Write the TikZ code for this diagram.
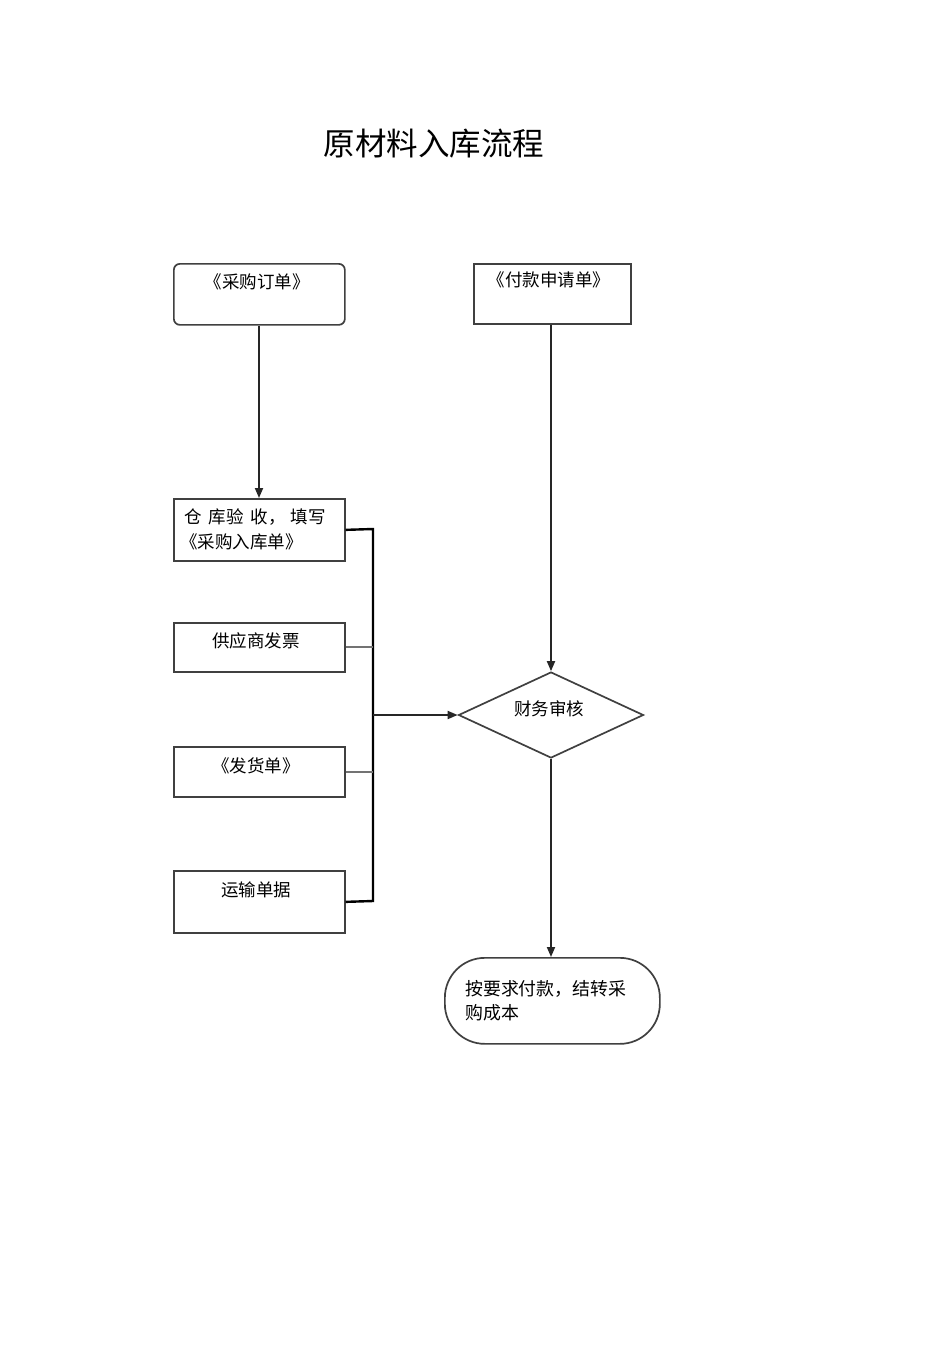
\documentclass[tikz,border=0pt]{standalone}
\usepackage{fontspec}
\setmainfont{Noto Sans CJK SC}
\usetikzlibrary{shapes.geometric,arrows.meta}
\tikzset{
  boxnode/.style={draw=black!75, line width=1.7pt, inner sep=0pt, anchor=north west},
  txt/.style={font=\fontsize{17.5}{24}\selectfont, inner sep=0pt, text height=0.88em, text depth=0.12em},
  mtxt/.style={font=\fontsize{17.5}{25}\selectfont, inner sep=0pt, anchor=base west, align=left},
  arr/.style={line width=1.8pt, draw=black!85, -{Triangle[length=10pt,width=8pt]}},
  busline/.style={line width=2.4pt, draw=black},
  thinline/.style={line width=1.8pt, draw=black!55}
}
\begin{document}
\begin{tikzpicture}[x=1pt,y=-1pt]
\useasboundingbox[fill=white] (0,0) rectangle (950,1345);
% title
\node[font=\fontsize{31.5}{36}\selectfont, inner sep=0pt] (title) at (434,144) {原材料入库流程};
% boxes
\node[boxnode, rounded corners=6pt, minimum width=171pt, minimum height=61pt] (b1) at (173,263) {};
\node[boxnode, minimum width=157pt, minimum height=60pt] (b2) at (473,263) {};
\node[boxnode, minimum width=171pt, minimum height=62pt] (b3) at (173,498) {};
\node[boxnode, minimum width=171pt, minimum height=49pt] (b4) at (173,622) {};
\node[boxnode, minimum width=171pt, minimum height=50pt] (b5) at (173,746) {};
\node[boxnode, minimum width=171pt, minimum height=62pt] (b6) at (173,870) {};
\node[diamond, draw=black!75, line width=1.7pt, inner sep=0pt, aspect=2.15, minimum width=185pt, minimum height=86pt] (dm) at (551,715) {};
\node[boxnode, rounded corners=40pt, minimum width=215pt, minimum height=86pt] (end) at (444,957) {};
% texts
\node[txt] (t1) at (257,285) {《采购订单》};
\node[txt] (t2) at (549,283) {《付款申请单》};
\node[mtxt] (t3) at (180,548.5) {\hspace*{4pt}仓\hspace{7pt}库验\hspace{7pt}收，\hspace{5pt}填写\\《采购入库单》};
\node[txt] (t4) at (256,644) {供应商发票};
\node[txt] (t5) at (256,769) {《发货单》};
\node[txt] (t6) at (256,893) {运输单据};
\node[txt] (t7) at (549,712) {财务审核};
\node[mtxt, font=\fontsize{17.9}{24}\selectfont] (t8) at (465,1019.5) {按要求付款，结转采\\购成本};
% bus
\coordinate (j3) at (373,529);
\coordinate (j6) at (373,901);
\draw[busline] (b3.east) -- (j3) -- (j6) -- (b6.east);
\draw[thinline] (b4.east) -- (b4.east -| j3);
\draw[thinline] (b5.east) -- (b5.east -| j3);
\coordinate (jd) at (j3 |- dm.west);
% arrows
\draw[arr] (jd) -- (dm.west);
\draw[arr] (b1.south -| 259,0) -- (b3.north -| 259,0);
\draw[arr] (b2.south -| dm.north) -- (dm.north);
\draw[arr] (dm.south) -- (end.north -| dm.south);
\end{tikzpicture}
\end{document}
